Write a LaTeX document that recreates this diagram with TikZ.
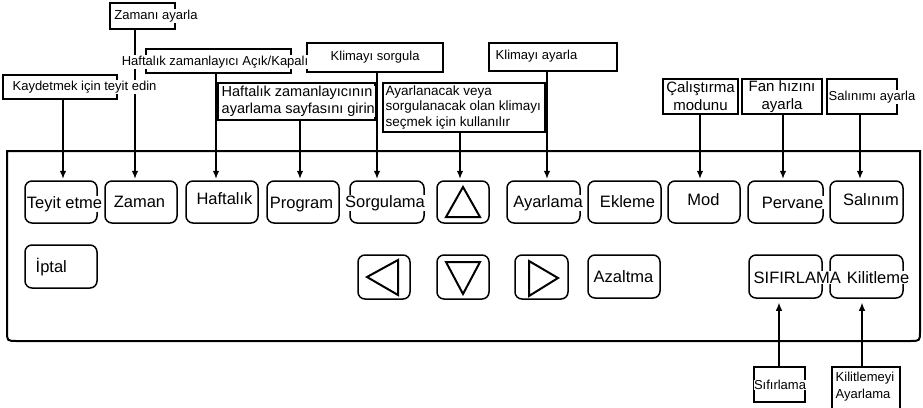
\documentclass[tikz,border=0pt]{standalone}
\usepackage{fontspec}
\setmainfont{Liberation Sans}
\usetikzlibrary{arrows.meta}
\tikzset{
 btn/.style={draw, line width=1.5pt, rounded corners=7pt, minimum width=72pt, minimum height=42pt, inner sep=0pt},
 btxt/.style={fill=white, inner sep=0.5pt, anchor=base, font=\fontsize{16.5}{19}\selectfont},
 lbox/.style={draw, line width=1.1pt, inner sep=0pt},
 ltxt/.style={fill=white, inner sep=0.5pt, font=\fontsize{13}{16}\selectfont, align=left},
 arr/.style={line width=1.1pt, -{Latex[length=8pt,width=6.5pt]}},
 tri/.style={line width=2pt, line join=miter},
 panel/.style={line width=2pt}
}
\begin{document}
\begin{tikzpicture}[x=1pt,y=-1pt]
\useasboundingbox (0,0) rectangle (923,407);
% panel
\draw[panel] (7,151) -- (920,151) -- (920,331) .. controls (920,341) .. (910,341) -- (17,341) .. controls (7,341) .. (7,331) -- cycle;
% buttons row 1
\node[btn] (b1) at (61,202) {};
\node[btn] (b2) at (141,202) {};
\node[btn] (b3) at (222,202) {};
\node[btn] (b4) at (303,202) {};
\node[btn, minimum width=74pt] (b5) at (387,202) {};
\node[btn, minimum width=52pt] (b6) at (463,202) {};
\node[btn, minimum width=73pt] (b7) at (543.5,202) {};
\node[btn, minimum width=73pt] (b8) at (624.5,202) {};
\node[btn] (b9) at (704,202) {};
\node[btn, minimum width=75pt] (b10) at (785.5,202) {};
\node[btn, minimum width=73pt] (b11) at (866.5,202) {};
% buttons row 2
\node[btn, minimum height=43pt] (c1) at (61,266.5) {};
\node[btn, minimum width=52pt, minimum height=44pt] (c2) at (384,277) {};
\node[btn, minimum width=52pt, minimum height=44pt] (c3) at (463,277) {};
\node[btn, minimum width=53pt, minimum height=44pt] (c4) at (541.5,277) {};
\node[btn, minimum height=43pt] (c5) at (624,276.5) {};
\node[btn, minimum width=73pt, minimum height=43pt] (c6) at (785.5,276.5) {};
\node[btn, minimum width=73pt, minimum height=43pt] (c7) at (866.5,276.5) {};
% triangles
\draw[tri] (463,187) -- (480,217) -- (446,217) -- cycle;
\draw[tri] (446,262) -- (480,262) -- (463,294) -- cycle;
\draw[tri] (367,277) -- (398,260) -- (398,295) -- cycle;
\draw[tri] (529,261) -- (558,278) -- (529,296) -- cycle;
% label boxes
\node[lbox, minimum width=65pt, minimum height=26pt] (l1) at (142.5,16) {};
\node[lbox, minimum width=145pt, minimum height=24pt] (l2) at (218.5,61) {};
\node[lbox, minimum width=114pt, minimum height=24pt] (l3) at (60,87) {};
\node[lbox, minimum width=136pt, minimum height=29pt] (l4) at (375,57.5) {};
\node[lbox, minimum width=157pt, minimum height=37pt] (l5) at (296.5,101.5) {};
\node[lbox, minimum width=162pt, minimum height=49pt] (l6) at (464,107.5) {};
\node[lbox, minimum width=128pt, minimum height=28pt] (l7) at (553,57) {};
\node[lbox, minimum width=75pt, minimum height=35pt] (l8) at (700.5,96.5) {};
\node[lbox, minimum width=80pt, minimum height=35pt] (l9) at (782,96.5) {};
\node[lbox, minimum width=70pt, minimum height=35pt] (l10) at (862,96.5) {};
\node[lbox, minimum width=51pt, minimum height=35pt] (l11) at (779.5,384.5) {};
\node[lbox, minimum width=68pt, minimum height=45pt] (l12) at (866,389.5) {};
% arrow x positions
\coordinate (x1) at (63,0);
\coordinate (x2) at (135,0);
\coordinate (x3) at (216,0);
\coordinate (x4) at (300,0);
\coordinate (x5) at (377,0);
\coordinate (x6) at (460,0);
\coordinate (x7) at (547,0);
\coordinate (x8) at (700,0);
\coordinate (x9) at (783,0);
\coordinate (x10) at (860,0);
\coordinate (x11) at (779,0);
\coordinate (x12) at (862,0);
% arrows
\draw[arr, shorten >=1.5pt] (x1 |- l3.south) -- (x1 |- b1.north);
\draw[arr, shorten >=1.5pt] (x2 |- l1.south) -- (x2 |- b2.north);
\draw[arr, shorten >=1.5pt] (x3 |- l2.south) -- (x3 |- b3.north);
\draw[arr, shorten >=1.5pt] (x4 |- l5.south) -- (x4 |- b4.north);
\draw[arr, shorten >=1.5pt] (x5 |- l4.south) -- (x5 |- b5.north);
\draw[arr, shorten >=1.5pt] (x6 |- l6.south) -- (x6 |- b6.north);
\draw[arr, shorten >=1.5pt] (x7 |- l7.south) -- (x7 |- b7.north);
\draw[arr, shorten >=1.5pt] (x8 |- l8.south) -- (x8 |- b9.north);
\draw[arr, shorten >=1.5pt] (x9 |- l9.south) -- (x9 |- b10.north);
\draw[arr, shorten >=1.5pt] (x10 |- l10.south) -- (x10 |- b11.north);
\draw[arr, shorten >=4pt] (x11 |- l11.north) -- (x11 |- c6.south);
\draw[arr, shorten >=4pt] (x12 |- l12.north) -- (x12 |- c7.south);
% button texts
\node[btxt] (t1) at (64.5,208) {Teyit etme};
\node[btxt] (t2) at (139.5,207) {Zaman};
\node[btxt] (t3) at (224.5,204) {Haftalık};
\node[btxt] (t4) at (301.5,208) {Program};
\node[btxt] (t5) at (385,207) {Sorgulama};
\node[btxt] (t7) at (548,207) {Ayarlama};
\node[btxt] (t8) at (627.5,207) {Ekleme};
\node[btxt] (t9) at (703.5,205) {Mod};
\node[btxt] (t10) at (792.5,208) {Pervane};
\node[btxt] (t11) at (871,205) {Salınım};
\node[btxt, anchor=base west] (u1) at (35,272) {İptal};
\node[btxt] (u5) at (623.5,282) {Azaltma};
\node[btxt, anchor=base west] (u6) at (753,283) {SIFIRLAMA};
\node[btxt, anchor=base east] (u7) at (910,283) {Kilitleme};
% label texts
\node[ltxt] (m1) at (156,16) {Zamanı ayarla};
\node[ltxt] (m2) at (215,62) {Haftalık zamanlayıcı Açık/Kapalı};
\node[ltxt] (m3) at (84.5,87) {Kaydetmek için teyit edin};
\node[ltxt, anchor=west] (m4) at (330,57) {Klimayı sorgula};
\node[ltxt, anchor=west, font=\fontsize{14.5}{17}\selectfont] (m5) at (221,101.5) {Haftalık zamanlayıcının\\ayarlama sayfasını girin};
\node[ltxt, anchor=west, font=\fontsize{13.5}{15.5}\selectfont] (m6) at (385,107.5) {Ayarlanacak veya\\sorgulanacak olan klimayı\\seçmek için kullanılır};
\node[ltxt, anchor=west] (m7) at (495,56) {Klimayı ayarla};
\node[ltxt, align=center, font=\fontsize{15}{18}\selectfont] (m8) at (700.5,96.5) {Çalıştırma\\modunu};
\node[ltxt, align=center, font=\fontsize{15}{18}\selectfont] (m9) at (782,96.5) {Fan hızını\\ayarla};
\node[ltxt] (m10) at (872,97) {Salınımı ayarla};
\node[ltxt] (m11) at (780,385) {Sıfırlama};
\node[ltxt, anchor=west, font=\fontsize{13}{17}\selectfont] (m12) at (835,386.5) {Kilitlemeyi\\Ayarlama};
\end{tikzpicture}
\end{document}
